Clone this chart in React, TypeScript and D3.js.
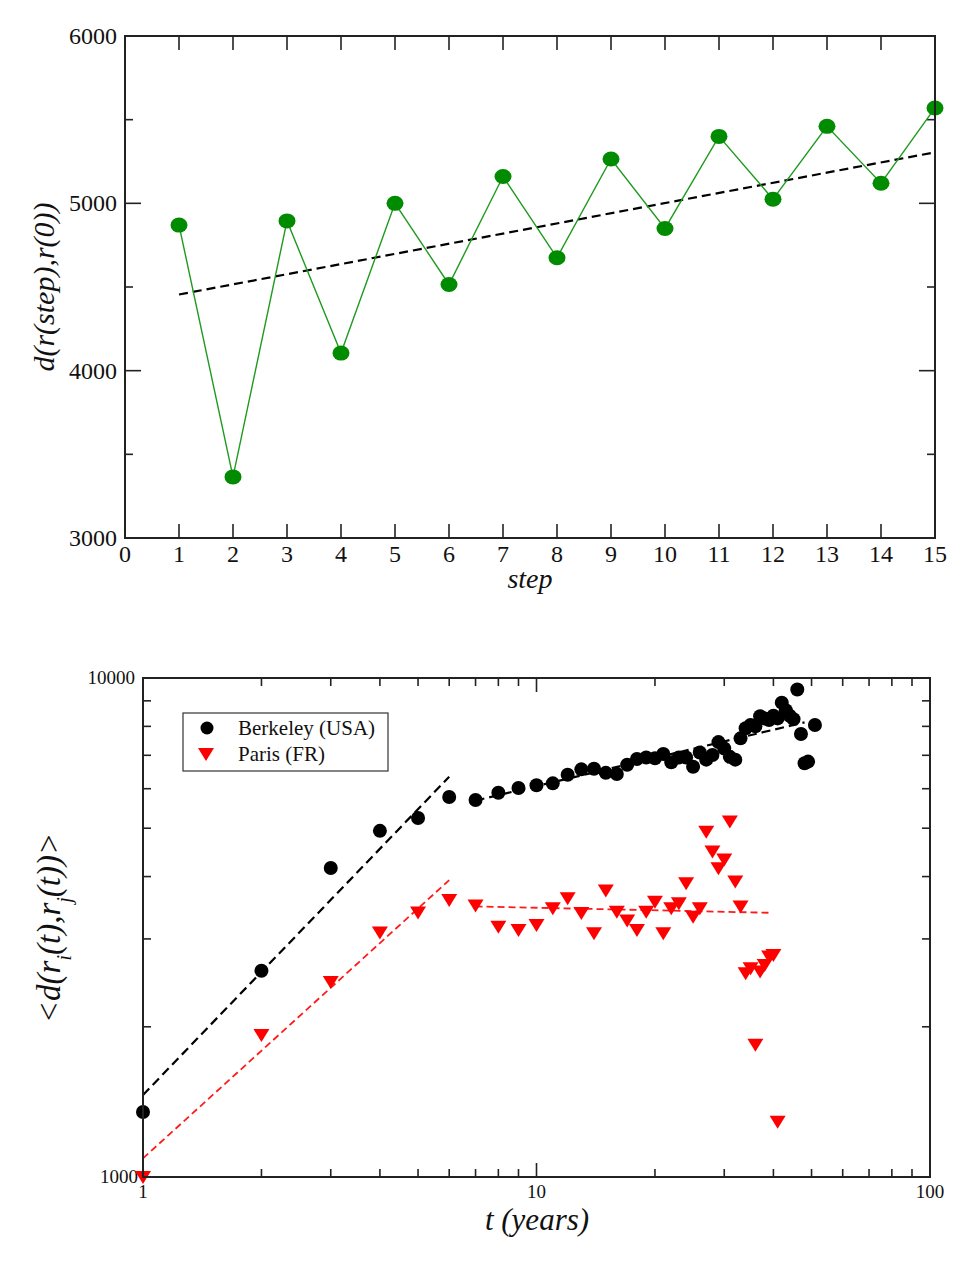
import { useEffect, useRef } from 'react';
import * as d3 from 'd3';

// Panel 1: distance vs step
const steps = [1, 2, 3, 4, 5, 6, 7, 8, 9, 10, 11, 12, 13, 14, 15];
const stepDistance = [4870, 3365, 4895, 4105, 5000, 4515, 5160, 4675, 5265, 4850, 5400, 5025, 5460, 5120, 5570];
const stepFitX = [1, 15];
const stepFitY = [4455, 5305];
const stepXTicks = [0, 1, 2, 3, 4, 5, 6, 7, 8, 9, 10, 11, 12, 13, 14, 15];
const stepYTicks = [3000, 4000, 5000, 6000];
const stepYMinor = [3500, 4500, 5500];

// Panel 2: mean distance vs time (log-log)
const berkeleyYears = [1, 2, 3, 4, 5, 6, 7, 8, 9, 10, 11, 12, 13, 14, 15, 16, 17, 18, 19, 20, 21, 22, 23, 24, 25, 26, 27, 28, 29, 30, 31, 32, 33, 34, 35, 36, 37, 38, 39, 40, 41, 42, 43, 44, 45, 46, 47, 48, 49, 51];
const berkeleyDist = [1350, 2590, 4160, 4940, 5240, 5775, 5695, 5890, 6020, 6095, 6150, 6400, 6560, 6580, 6455, 6420, 6700, 6880, 6930, 6905, 7040, 6780, 6930, 6930, 6640, 7090, 6860, 7010, 7440, 7225, 6950, 6860, 7570, 7930, 8050, 8000, 8385, 8300, 8240, 8400, 8300, 8925, 8620, 8400, 8270, 9485, 7725, 6750, 6800, 8050];
const parisYears = [1, 2, 3, 4, 5, 6, 7, 8, 9, 10, 11, 12, 13, 14, 15, 16, 17, 18, 19, 20, 21, 22, 23, 24, 25, 26, 27, 28, 29, 30, 31, 32, 33, 34, 35, 36, 37, 38, 39, 40, 41];
const parisDist = [1000, 1925, 2460, 3090, 3390, 3590, 3500, 3175, 3125, 3200, 3455, 3620, 3380, 3080, 3750, 3400, 3265, 3125, 3400, 3560, 3080, 3455, 3537, 3880, 3325, 3455, 4920, 4490, 4155, 4330, 5155, 3910, 3485, 2560, 2620, 1840, 2580, 2660, 2765, 2785, 1290];
const berkeleyFitEarly: [number, number][] = [[1, 1460], [6, 6340]];
const berkeleyFitLate: [number, number][] = [[7, 5680], [48, 8150]];
const parisFitEarly: [number, number][] = [[1, 1090], [6, 3935]];
const parisFitLate: [number, number][] = [[7, 3485], [39, 3385]];
const timeMajor = [1, 10, 100];
const timeMinor = [2, 3, 4, 5, 6, 7, 8, 9, 20, 30, 40, 50, 60, 70, 80, 90];
const distMajor = [1000, 10000];
const distMinor = [2000, 3000, 4000, 5000, 6000, 7000, 8000, 9000];

const FONT = '"Liberation Serif", "DejaVu Serif", serif';

export default function App() {
  const svgRef = useRef<SVGSVGElement>(null);

  useEffect(() => {
    if (!svgRef.current) return;
    const svg = d3.select(svgRef.current);
    svg.selectAll('*').remove();

    const tick = (g: any, xa: number, ya: number, xb: number, yb: number) =>
      g.append('line').attr('x1', xa).attr('y1', ya).attr('x2', xb).attr('y2', yb)
        .attr('stroke', '#222').attr('stroke-width', 1.6);

    // ---------- top panel ----------
    const L1 = 125, R1 = 935, T1 = 36, B1 = 538;
    const x1 = d3.scaleLinear().domain([0, 15]).range([L1, R1]);
    const y1 = d3.scaleLinear().domain([3000, 6000]).range([B1, T1]);
    const g1 = svg.append('g');

    stepXTicks.forEach((t) => {
      tick(g1, x1(t), B1, x1(t), B1 - 14);
      tick(g1, x1(t), T1, x1(t), T1 + 14);
      g1.append('text').attr('x', x1(t)).attr('y', 562).attr('text-anchor', 'middle')
        .style('font-family', FONT).style('font-size', '24px').attr('fill', '#111').text(t);
    });
    stepYTicks.forEach((v) => {
      tick(g1, L1, y1(v), L1 + 16, y1(v));
      tick(g1, R1, y1(v), R1 - 16, y1(v));
      g1.append('text').attr('x', 117).attr('y', y1(v) + 8).attr('text-anchor', 'end')
        .style('font-family', FONT).style('font-size', '24px').attr('fill', '#111').text(v);
    });
    stepYMinor.forEach((v) => {
      tick(g1, L1, y1(v), L1 + 8, y1(v));
      tick(g1, R1, y1(v), R1 - 8, y1(v));
    });

    g1.append('path')
      .attr('d', d3.line<number>().x((_, i) => x1(stepFitX[i])).y((d) => y1(d))(stepFitY))
      .attr('fill', 'none').attr('stroke', '#000').attr('stroke-width', 2.2)
      .attr('stroke-dasharray', '9,5');

    g1.append('path')
      .attr('d', d3.line<number>().x((_, i) => x1(steps[i])).y((d) => y1(d))(stepDistance))
      .attr('fill', 'none').attr('stroke', '#1f9a1f').attr('stroke-width', 1.4);

    g1.selectAll('.dot').data(stepDistance).enter().append('ellipse')
      .attr('cx', (_, i) => x1(steps[i])).attr('cy', (d) => y1(d))
      .attr('rx', 8.5).attr('ry', 7.5).attr('fill', '#008b00');

    g1.append('rect').attr('x', L1).attr('y', T1).attr('width', R1 - L1).attr('height', B1 - T1)
      .attr('fill', 'none').attr('stroke', '#222').attr('stroke-width', 2);

    g1.append('text').attr('transform', 'translate(54,287) rotate(-90)').attr('text-anchor', 'middle')
      .style('font-family', FONT).style('font-size', '30px').style('font-style', 'italic')
      .attr('fill', '#111').text('d(r(step),r(0))');
    g1.append('text').attr('x', 530).attr('y', 588).attr('text-anchor', 'middle')
      .style('font-family', FONT).style('font-size', '28px').style('font-style', 'italic')
      .attr('fill', '#111').text('step');

    // ---------- bottom panel ----------
    const L2 = 143, R2 = 930, T2 = 678, B2 = 1177;
    const x2 = d3.scaleLog().domain([1, 100]).range([L2, R2]);
    const y2 = d3.scaleLog().domain([1000, 10000]).range([B2, T2]);
    const g2 = svg.append('g');

    timeMajor.forEach((t) => {
      tick(g2, x2(t), B2, x2(t), B2 - 14);
      tick(g2, x2(t), T2, x2(t), T2 + 14);
      g2.append('text').attr('x', x2(t)).attr('y', 1198).attr('text-anchor', 'middle')
        .style('font-family', FONT).style('font-size', '19px').attr('fill', '#111').text(t);
    });
    timeMinor.forEach((t) => {
      tick(g2, x2(t), B2, x2(t), B2 - 8);
      tick(g2, x2(t), T2, x2(t), T2 + 8);
    });
    distMajor.forEach((v) => {
      tick(g2, L2, y2(v), L2 + 14, y2(v));
      tick(g2, R2, y2(v), R2 - 14, y2(v));
      g2.append('text').attr('x', v === 1000 ? 138 : 135).attr('y', y2(v) + 6).attr('text-anchor', 'end')
        .style('font-family', FONT).style('font-size', '19px').attr('fill', '#111').text(v);
    });
    distMinor.forEach((v) => {
      tick(g2, L2, y2(v), L2 + 8, y2(v));
      tick(g2, R2, y2(v), R2 - 8, y2(v));
    });

    const fitLine = d3.line<[number, number]>().x((d) => x2(d[0])).y((d) => y2(d[1]));
    [berkeleyFitEarly, berkeleyFitLate].forEach((seg) => {
      g2.append('path').attr('d', fitLine(seg)).attr('fill', 'none')
        .attr('stroke', '#000').attr('stroke-width', 2.2).attr('stroke-dasharray', '9,5');
    });
    [parisFitEarly, parisFitLate].forEach((seg) => {
      g2.append('path').attr('d', fitLine(seg)).attr('fill', 'none')
        .attr('stroke', '#ff1a1a').attr('stroke-width', 1.8).attr('stroke-dasharray', '7,4');
    });

    const tri = 'M-8,-6L8,-6L0,7Z';

    g2.selectAll('.paris').data(parisDist).enter().append('path')
      .attr('d', tri)
      .attr('transform', (d, i) => `translate(${x2(parisYears[i])},${y2(d)})`)
      .attr('fill', '#ff0000');

    g2.selectAll('.berk').data(berkeleyDist).enter().append('circle')
      .attr('cx', (_, i) => x2(berkeleyYears[i])).attr('cy', (d) => y2(d))
      .attr('r', 7).attr('fill', '#000');

    g2.append('rect').attr('x', L2).attr('y', T2).attr('width', R2 - L2).attr('height', B2 - T2)
      .attr('fill', 'none').attr('stroke', '#222').attr('stroke-width', 2);

    // Legenda
    const legend = g2.append('g');
    legend.append('rect').attr('x', 183).attr('y', 713).attr('width', 205).attr('height', 58)
      .attr('fill', '#fff').attr('stroke', '#333').attr('stroke-width', 1.2);
    legend.append('circle').attr('cx', 207).attr('cy', 728).attr('r', 6.5).attr('fill', '#000');
    legend.append('path').attr('d', tri).attr('transform', 'translate(206,754)').attr('fill', '#ff0000');
    legend.append('text').attr('x', 238).attr('y', 735).style('font-family', FONT)
      .style('font-size', '21px').attr('fill', '#111').text('Berkeley (USA)');
    legend.append('text').attr('x', 238).attr('y', 761).style('font-family', FONT)
      .style('font-size', '21px').attr('fill', '#111').text('Paris (FR)');

    const ylab = g2.append('text').attr('transform', 'translate(60,928) rotate(-90)')
      .attr('text-anchor', 'middle').style('font-family', FONT).style('font-size', '33px')
      .style('font-style', 'italic').attr('fill', '#111');
    ylab.append('tspan').text('<d(r');
    ylab.append('tspan').attr('baseline-shift', 'sub').style('font-size', '20px').text('i');
    ylab.append('tspan').text('(t),r');
    ylab.append('tspan').attr('baseline-shift', 'sub').style('font-size', '20px').text('j');
    ylab.append('tspan').text('(t))>');

    g2.append('text').attr('x', 537).attr('y', 1230).attr('text-anchor', 'middle')
      .style('font-family', FONT).style('font-size', '31px').style('font-style', 'italic')
      .attr('fill', '#111').text('t (years)');
  }, []);

  return (
    <svg
      ref={svgRef}
      width={975}
      height={1263}
      style={{ position: 'absolute', left: 0, top: 0, background: '#fff' }}
    />
  );
}
